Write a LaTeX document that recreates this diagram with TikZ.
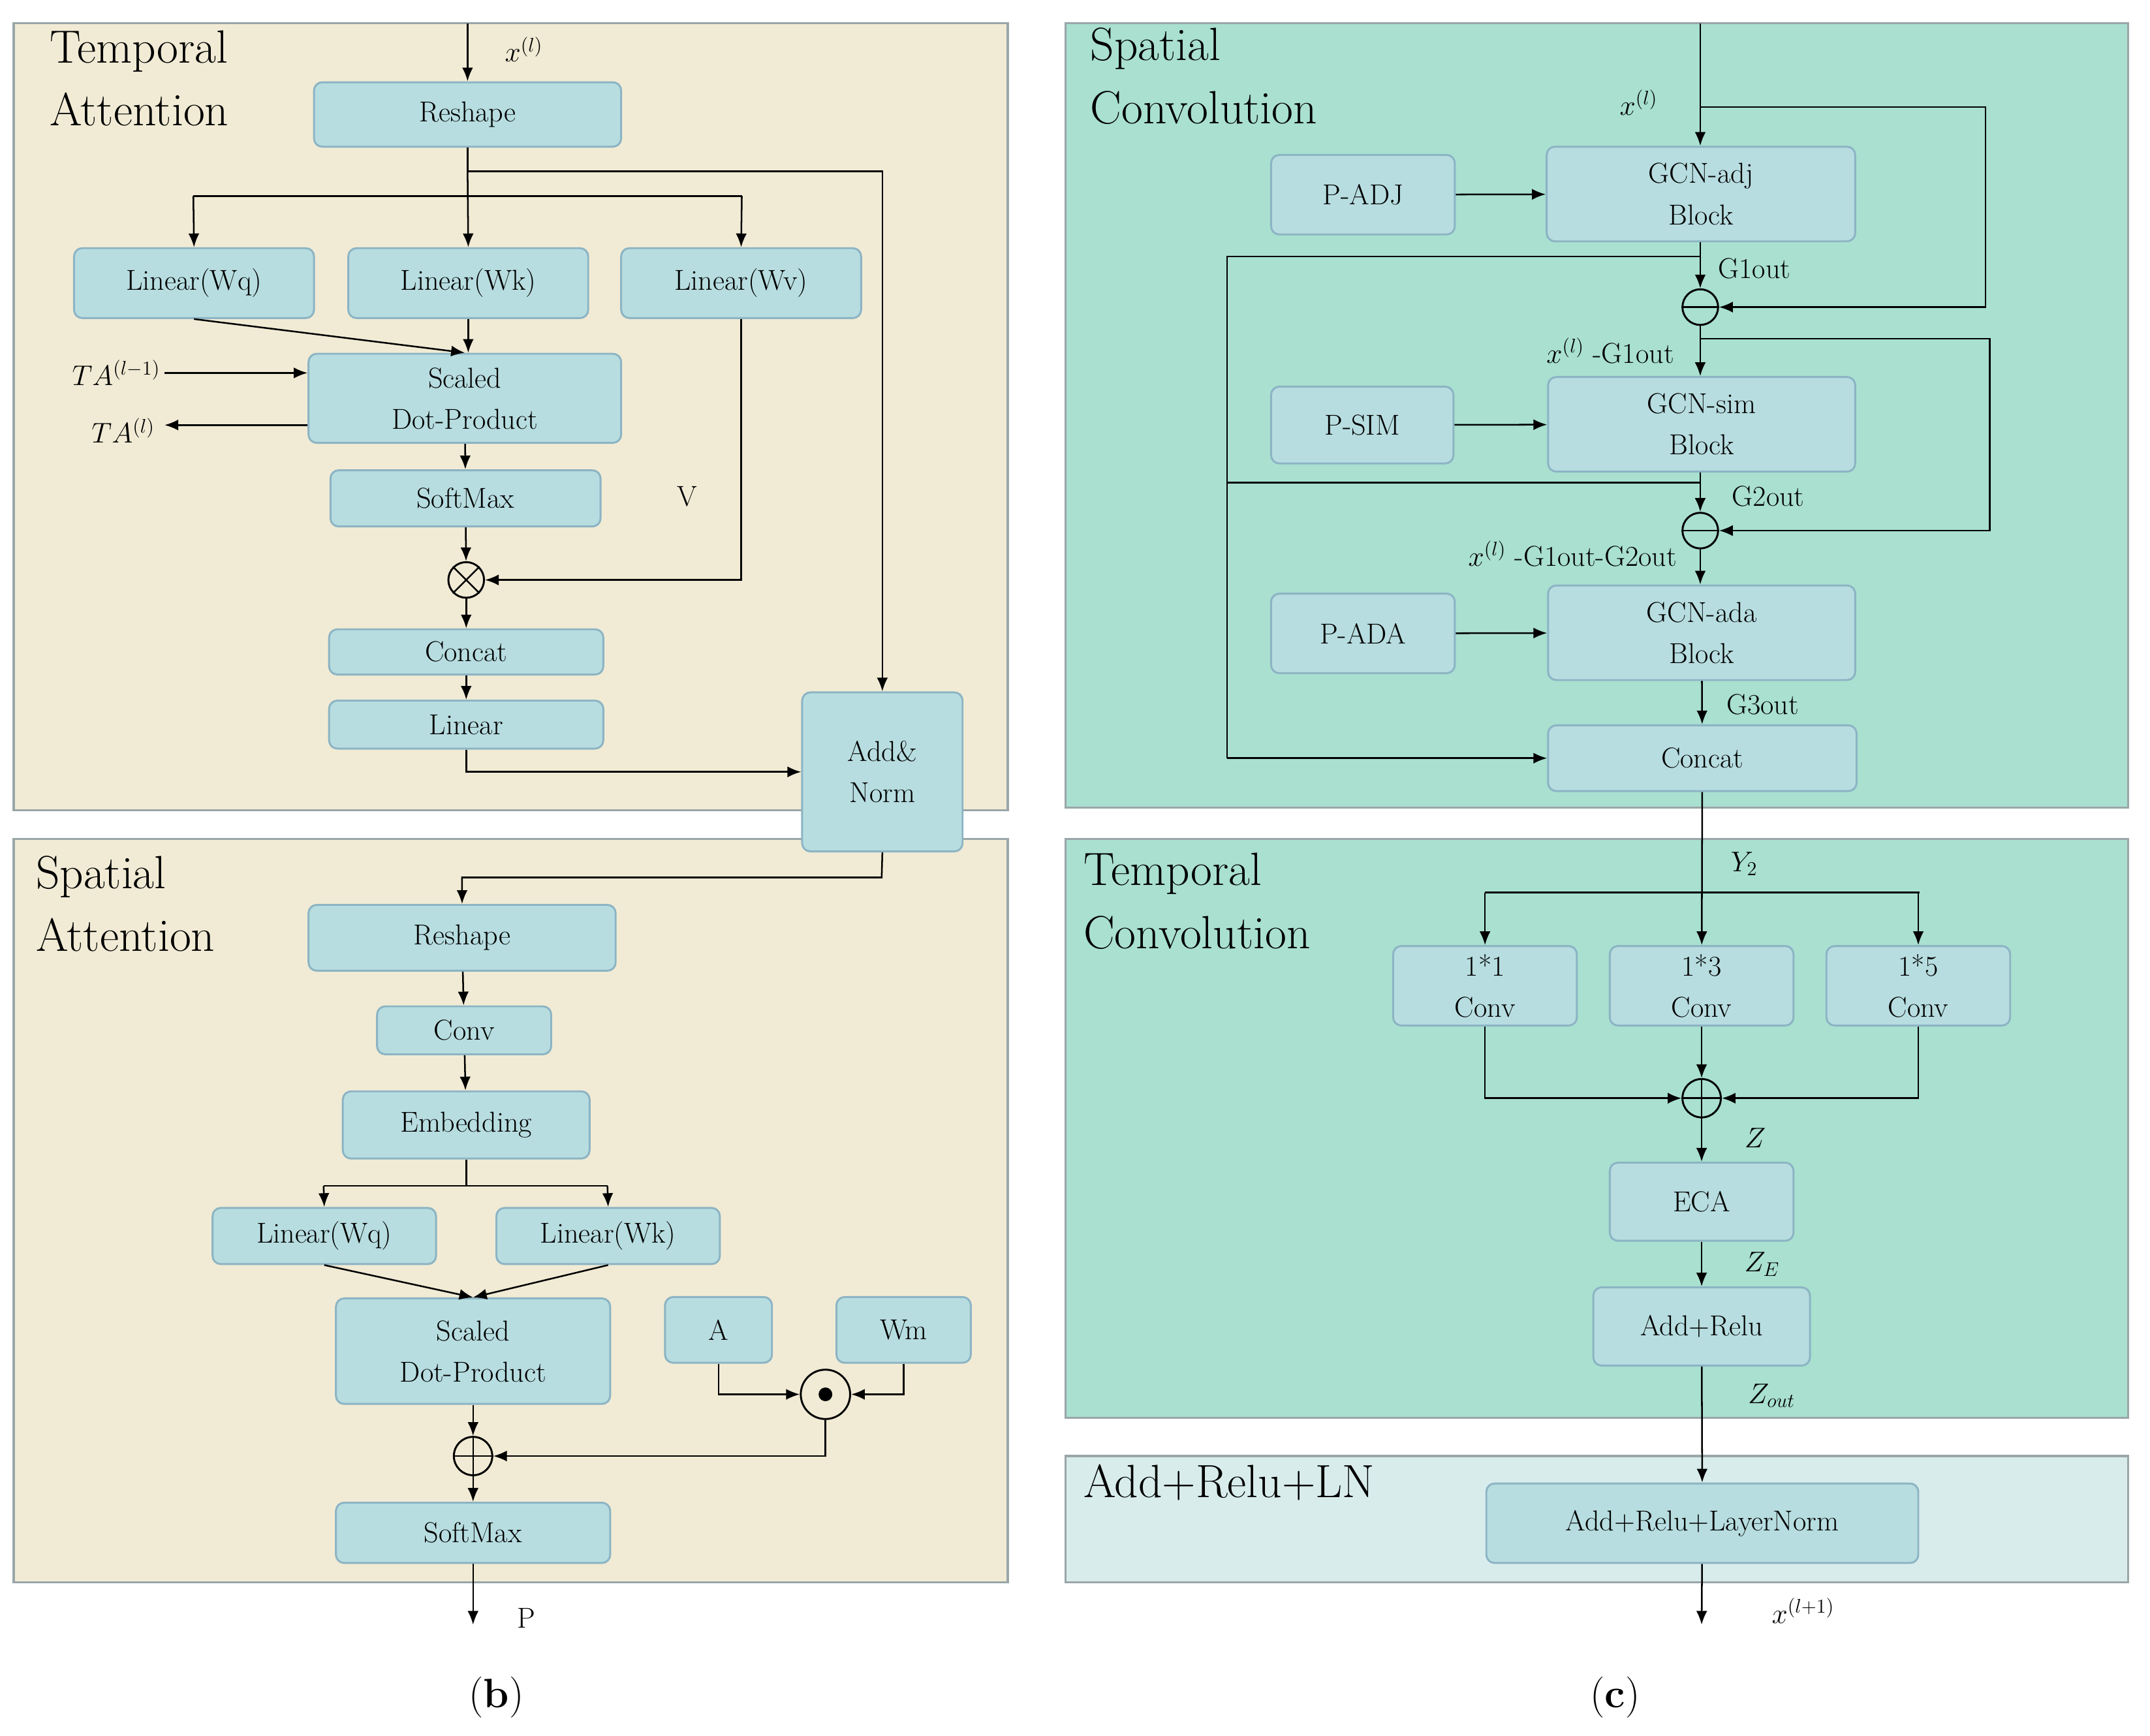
\documentclass[tikz,border=0pt]{standalone}
\usepackage{fontspec}
\usetikzlibrary{arrows.meta}
\begin{document}
\definecolor{sand}{HTML}{F1EBD5}
\definecolor{mint}{HTML}{A9E0D0}
\definecolor{pale}{HTML}{D8ECEC}
\definecolor{boxf}{HTML}{B7DDE0}
\definecolor{boxd}{HTML}{8CB4C4}
\definecolor{pand}{HTML}{9AA6A8}
\begin{tikzpicture}[x=1pt,y=-1pt,
  box/.style={draw=boxd,fill=boxf,line width=1.4pt,rounded corners=6pt,inner sep=0pt,align=center,font=\fontsize{21}{30}\selectfont},
  panel/.style={draw=pand,line width=1.6pt},
  ttl/.style={anchor=north west,align=left,font=\fontsize{34}{46}\selectfont,inner sep=0pt},
  lbl/.style={font=\fontsize{21}{25}\selectfont,inner sep=1pt},
  op/.style={circle,draw,line width=1.4pt,minimum size=26pt,inner sep=0pt},
  arr/.style={-{Latex[length=10pt,width=8pt]},line width=1.2pt},
  ln/.style={line width=1.2pt}]
\newcommand{\bx}[6]{\node[box,minimum width={#4-#2},minimum height={#5-#3}] (#1) at ({(#2+#4)/2},{(#3+#5)/2}) {#6};}
\useasboundingbox (0,0) rectangle (1568,1266);
% panels
\draw[panel,fill=sand] (10,17) rectangle (735,591);
\draw[panel,fill=sand] (10,612) rectangle (735,1154);
\draw[panel,fill=mint] (777,17) rectangle (1552,589);
\draw[panel,fill=mint] (777,612) rectangle (1552,1034);
\draw[panel,fill=pale] (777,1062) rectangle (1552,1154);
\node[ttl] (t1) at (36,22) {Temporal\\Attention};
\node[ttl] (t2) at (26,624) {Spatial\\Attention};
\node[ttl] (t3) at (795,20) {Spatial\\Convolution};
\node[ttl] (t4) at (790,622) {Temporal\\Convolution};
\node[ttl] (t5) at (790,1068) {Add+Relu+LN};
% ---- temporal attention
\coordinate (in1) at (341,17);
\bx{rs1}{229}{60}{453}{107}{Reshape}
\node[lbl] (xl1) at (382,36) {$x^{(l)}$};
\bx{wq1}{54}{181}{229}{232}{Linear(Wq)}
\bx{wk1}{254}{181}{429}{232}{Linear(Wk)}
\bx{wv1}{453}{181}{628}{232}{Linear(Wv)}
\bx{sdp1}{225}{258}{453}{323}{Scaled\\Dot-Product}
\bx{sm1}{241}{343}{438}{384}{SoftMax}
\node[op] (ot) at (340,423) {};
\bx{cc1}{240}{459}{440}{492}{Concat}
\bx{li1}{240}{511}{440}{546}{Linear}
\bx{an}{585}{505}{702}{621}{Add\&\\Norm}
\node[lbl] (v) at (501,362) {V};
\coordinate (ta1) at (120,272);
\coordinate (ta2) at (120,310);
\node[lbl,anchor=east] (tal1) at (118,272) {$TA^{(l-1)}$};
\node[lbl,anchor=east] (tal2) at (114,314) {$TA^{(l)}$};
\draw[arr] (in1) -- (rs1);
\draw[ln] (rs1.south) -- (341,125);
\draw[arr] (341,125) -- (an.north |- 0,125) -- (an.north);
\draw[arr] (341,125) -- (wk1.north);
\draw[ln] (141,143) -- (541,143);
\draw[arr] (141,143) -- (wq1.north);
\draw[arr] (541,143) -- (wv1.north);
\draw[arr] (wq1.south) -- (sdp1.north);
\draw[arr] (wk1.south) -- (sdp1.north -| wk1.south);
\draw[arr] (ta1) -- (sdp1.west |- ta1);
\draw[arr] (sdp1.west |- ta2) -- (ta2);
\draw[arr] (sdp1) -- (sm1);
\draw[arr] (sm1) -- (ot);
\draw[arr] (wv1.south) |- (ot.east);
\draw[ln] (ot.north west) -- (ot.south east) (ot.north east) -- (ot.south west);
\draw[arr] (ot) -- (cc1);
\draw[arr] (cc1) -- (li1);
\draw[arr] (li1.south) |- (an.west);
% ---- spatial attention
\bx{rs2}{225}{660}{449}{708}{Reshape}
\bx{cv2}{275}{734}{402}{769}{Conv}
\bx{em}{250}{796}{430}{845}{Embedding}
\bx{wq2}{155}{881}{318}{922}{Linear(Wq)}
\bx{wk2}{362}{881}{525}{922}{Linear(Wk)}
\bx{sdp2}{245}{947}{445}{1024}{Scaled\\Dot-Product}
\bx{a}{485}{946}{563}{994}{A}
\bx{wm}{610}{946}{708}{994}{Wm}
\node[op,minimum size=36pt] (od) at (602,1017) {};
\fill (od) circle (5pt);
\node[op,minimum size=28pt] (op2) at (345,1062) {};
\draw[ln] (op2.north) -- (op2.south) (op2.west) -- (op2.east);
\bx{sm2}{245}{1096}{445}{1140}{SoftMax}
\coordinate (po) at (345,1185);
\node[lbl] (p) at (384,1180) {P};
\draw[arr] (an.south) -- (643,640) -| (rs2.north);
\draw[arr] (rs2) -- (cv2);
\draw[arr] (cv2) -- (em);
\draw[ln] (em.south) -- (340,865);
\draw[ln] (236,865) -- (443,865);
\draw[arr] (236,865) -- (wq2.north);
\draw[arr] (443,865) -- (wk2.north);
\draw[arr] (wq2.south) -- (sdp2.north);
\draw[arr] (wk2.south) -- (sdp2.north);
\draw[arr] (a.south) |- (od.west);
\draw[arr] (wm.south) |- (od.east);
\draw[arr] (sdp2) -- (op2);
\draw[arr] (od.south) |- (op2.east);
\draw[arr] (op2) -- (sm2);
\draw[arr] (sm2) -- (po);
\node[font=\fontsize{30}{34}\selectfont] (lb) at (362,1238) {(\textbf{b})};
% ---- spatial convolution
\coordinate (in2) at (1240,17);
\node[lbl] (xl2) at (1195,75) {$x^{(l)}$};
\bx{pa}{927}{113}{1061}{171}{P-ADJ}
\bx{ga}{1128}{107}{1353}{176}{GCN-adj\\Block}
\node[op] (m1) at (1240,224) {};
\draw[ln] (m1.west) -- (m1.east);
\bx{ps}{927}{282}{1060}{338}{P-SIM}
\bx{gs}{1129}{275}{1353}{344}{GCN-sim\\Block}
\node[op] (m2) at (1240,387) {};
\draw[ln] (m2.west) -- (m2.east);
\bx{pd}{927}{433}{1061}{491}{P-ADA}
\bx{gd}{1129}{427}{1353}{496}{GCN-ada\\Block}
\bx{cc2}{1129}{529}{1354}{577}{Concat}
\node[lbl,anchor=west] (g1) at (1252,196) {G1out};
\node[lbl,anchor=east] (xg1) at (1222,256) {$x^{(l)}$ -G1out};
\node[lbl,anchor=west] (g2) at (1262,362) {G2out};
\node[lbl,anchor=east] (xg2) at (1224,404) {$x^{(l)}$ -G1out-G2out};
\node[lbl,anchor=west] (g3) at (1258,514) {G3out};
\draw[arr] (in2) -- (ga.north -| in2);
\draw[arr] (1240,78) -- (1448,78) |- (m1.east);
\draw[arr] (pa) -- (ga);
\draw[arr] (ga.south -| m1) -- (m1);
\draw[ln] (1240,187) -- (895,187) -- (895,553);
\draw[arr] (895,553) -- (cc2.west);
\draw[arr] (m1) -- (gs.north -| m1);
\draw[arr] (1240,247) -- (1451,247) |- (m2.east);
\draw[arr] (ps) -- (gs);
\draw[arr] (gs.south -| m2) -- (m2);
\draw[ln] (1240,352) -- (895,352);
\draw[arr] (m2) -- (gd.north -| m2);
\draw[arr] (pd) -- (gd);
\draw[arr] (gd) -- (cc2);
% ---- temporal convolution
\bx{c1}{1016}{690}{1150}{748}{1*1\\Conv}
\bx{c3}{1174}{690}{1308}{748}{1*3\\Conv}
\bx{c5}{1332}{690}{1466}{748}{1*5\\Conv}
\node[op,minimum size=28pt] (p3) at (1241,801) {};
\draw[ln] (p3.north) -- (p3.south) (p3.west) -- (p3.east);
\bx{eca}{1174}{848}{1308}{905}{ECA}
\bx{ar}{1162}{939}{1320}{996}{Add+Relu}
\bx{arl}{1084}{1082}{1399}{1140}{Add+Relu+LayerNorm}
\coordinate (xo) at (1241,1185);
\node[lbl] (y2) at (1272,630) {$Y_2$};
\node[lbl] (z) at (1280,830) {$Z$};
\node[lbl] (ze) at (1285,922) {$Z_E$};
\node[lbl] (zo) at (1292,1018) {$Z_{out}$};
\node[lbl] (xn) at (1315,1175) {$x^{(l+1)}$};
\draw[arr] (cc2) -- (c3);
\draw[ln] (1083,651) -- (1400,651);
\draw[arr] (1083,651) -- (c1.north);
\draw[arr] (1399,651) -- (c5.north);
\draw[arr] (c1.south) |- (p3.west);
\draw[arr] (c5.south) |- (p3.east);
\draw[arr] (c3) -- (p3);
\draw[arr] (p3) -- (eca);
\draw[arr] (eca) -- (ar);
\draw[arr] (ar) -- (arl);
\draw[arr] (arl) -- (xo);
\node[font=\fontsize{30}{34}\selectfont] (lc) at (1178,1238) {(\textbf{c})};
\end{tikzpicture}
\end{document}
